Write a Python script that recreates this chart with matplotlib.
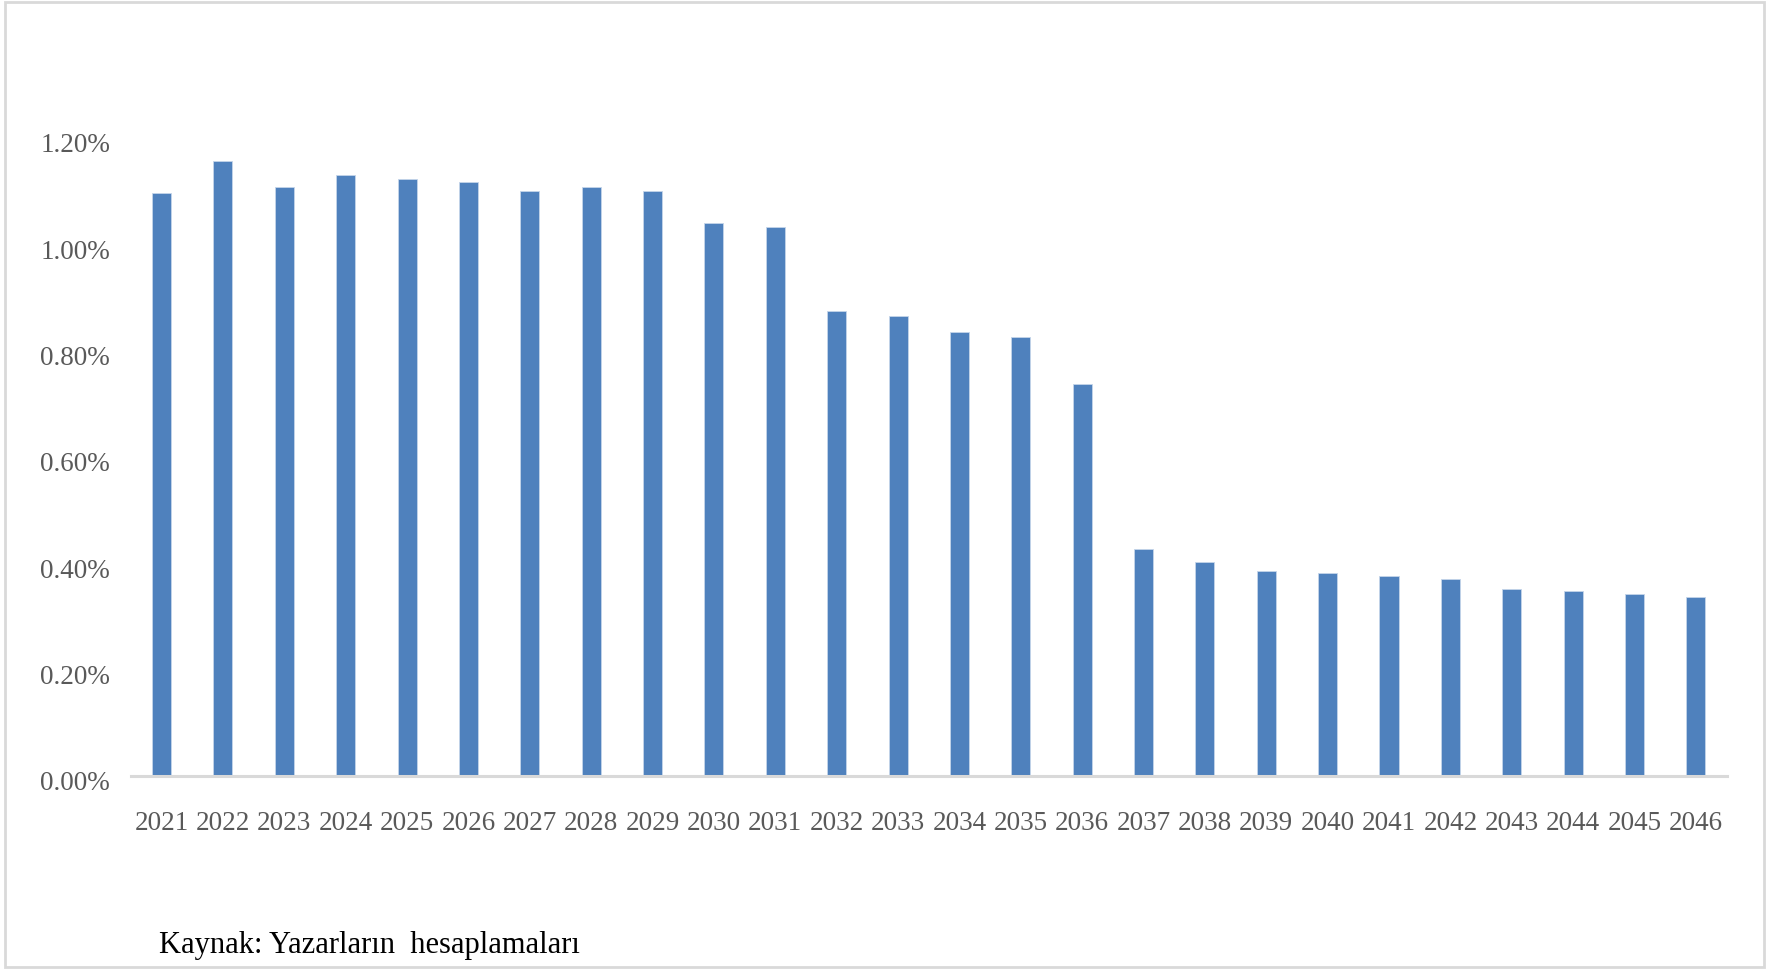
"""Annual rate by year, 2021-2046 (bar chart, Excel-style)."""

import matplotlib
matplotlib.use("Agg")
import matplotlib.pyplot as plt
from matplotlib.patches import Rectangle
from matplotlib.ticker import FuncFormatter
from matplotlib.transforms import ScaledTranslation

years = [str(y) for y in range(2021, 2047)]
rates = [1.097, 1.156, 1.107, 1.130, 1.122, 1.117, 1.100, 1.107, 1.100,
         1.041, 1.033, 0.875, 0.865, 0.836, 0.826, 0.737, 0.426, 0.403,
         0.386, 0.381, 0.377, 0.371, 0.352, 0.347, 0.342, 0.337]
yticks = [0.0, 0.2, 0.4, 0.6, 0.8, 1.0, 1.2]
source = "Kaynak: Yazarların  hesaplamaları"

BAR = "#4f81bd"
TICK = "#595959"
AXIS = "#d9d9d9"

plt.rcParams["font.family"] = ["Liberation Serif", "DejaVu Serif"]

fig = plt.figure(figsize=(17.69, 9.69), dpi=100)
ax = fig.add_axes([0.074, 0.1992, 0.902, 0.6584])

x = range(len(years))
ax.bar(x, rates, width=0.31, color=BAR, edgecolor="#c5d5ea", linewidth=0.6)

ax.set_xlim(-0.5, len(years) - 0.5)
ax.set_ylim(0, 1.2)
ax.set_yticks(yticks)
ax.yaxis.set_major_formatter(FuncFormatter(lambda v, _: f"{v:.2f}%"))
ax.set_xticks(list(x))
ax.set_xticklabels(years)

for side in ("top", "right", "left"):
    ax.spines[side].set_visible(False)
ax.spines["bottom"].set_color(AXIS)
ax.spines["bottom"].set_linewidth(2.2)
ax.tick_params(axis="both", length=0, labelsize=19.5, labelcolor=TICK)
ax.tick_params(axis="y", pad=15)
ax.tick_params(axis="x", pad=25)

# Excel draws the value labels a few pixels below their gridline positions
shift = ScaledTranslation(0, -5 / 100, fig.dpi_scale_trans)
for lbl in ax.get_yticklabels():
    lbl.set_transform(lbl.get_transform() + shift)

fig.text(0.090, 0.017, source, fontsize=22, color="black", ha="left", va="baseline")

fig.patches.append(Rectangle((0.003, 0.002), 0.994, 0.996, transform=fig.transFigure,
                             fill=False, edgecolor=AXIS, linewidth=2))

fig.savefig("out.png", dpi=100)
